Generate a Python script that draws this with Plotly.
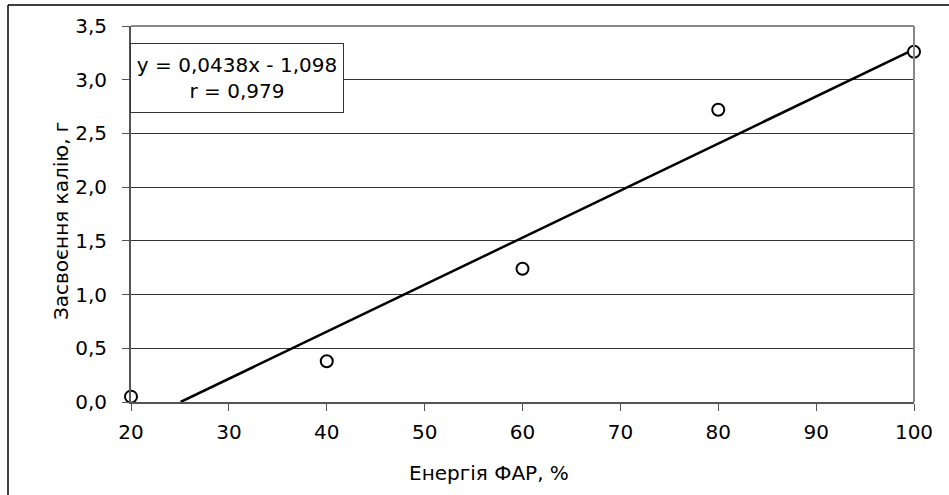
import plotly.graph_objects as go

energy = [20, 40, 60, 80, 100]
uptake = [0.05, 0.38, 1.24, 2.72, 3.26]
slope = 0.0438
intercept = -1.098
r_value = 0.979

x_tick_vals = [20, 30, 40, 50, 60, 70, 80, 90, 100]
y_tick_vals = [0, 0.5, 1.0, 1.5, 2.0, 2.5, 3.0, 3.5]

x_title = "Енергія ФАР, %"
y_title = "Засвоєння калію, г"
eq_text = "y = 0,0438x - 1,098<br>r = 0,979"

x_start = -intercept / slope
trend_x = [x_start, max(energy)]
trend_y = [slope * x + intercept for x in trend_x]

FONT = "DejaVu Sans, Verdana, sans-serif"

fig = go.Figure()
fig.add_trace(go.Scatter(
    x=trend_x, y=trend_y, mode="lines",
    line=dict(color="black", width=2.5), showlegend=False, hoverinfo="skip"))
fig.add_trace(go.Scatter(
    x=energy, y=uptake, mode="markers",
    marker=dict(symbol="circle", size=12, color="white",
                line=dict(color="black", width=2)),
    showlegend=False, cliponaxis=False))

W, H = 949, 495
ml, mr, mt, mb = 131, 35, 26, 93
pw = W - ml - mr
ph = H - mt - mb

def px(xp):
    return (xp - ml) / pw

def py(yp):
    return (H - mb - yp) / ph

fig.update_layout(
    width=W, height=H,
    margin=dict(l=ml, r=mr, t=mt, b=mb),
    paper_bgcolor="white", plot_bgcolor="white",
    separators=", ",
    font=dict(family=FONT, color="black", size=20),
    xaxis=dict(
        range=[20, 100], tickvals=x_tick_vals, tickformat="d",
        showgrid=False, zeroline=False,
        showline=True, linecolor="#555555", linewidth=2,
        ticks="outside", ticklen=7, tickcolor="#555555", tickwidth=1,
        tickfont=dict(size=20, family=FONT), ticklabelstandoff=4,
    ),
    yaxis=dict(
        range=[0, 3.5], tickvals=y_tick_vals, tickformat=".1f",
        showgrid=True, gridcolor="#333333", gridwidth=1,
        zeroline=False,
        showline=True, linecolor="#555555", linewidth=2,
        ticks="outside", ticklen=7, tickcolor="#555555", tickwidth=1,
        tickfont=dict(size=20, family=FONT), ticklabelstandoff=11,
    ),
    shapes=[
        dict(type="line", xref="paper", yref="paper", x0=0, x1=1, y0=1, y1=1,
             line=dict(color="#888888", width=2)),
        dict(type="line", xref="paper", yref="paper", x0=1, x1=1, y0=0, y1=1,
             line=dict(color="#888888", width=2)),
        dict(type="line", xref="paper", yref="paper", x0=px(8), x1=px(W + 5),
             y0=py(5), y1=py(5), line=dict(color="black", width=1.5)),
        dict(type="line", xref="paper", yref="paper", x0=px(8), x1=px(8),
             y0=py(5), y1=py(H + 5), line=dict(color="black", width=1.5)),
    ],
    annotations=[
        dict(xref="paper", yref="paper", x=px(130), y=py(43),
             xanchor="left", yanchor="top", showarrow=False,
             text=eq_text,
             font=dict(size=20, family=FONT, color="black"),
             align="center", width=212, height=68,
             bgcolor="white", bordercolor="#333333", borderwidth=1, borderpad=0),
        dict(xref="paper", yref="paper", x=px(489), y=py(473),
             xanchor="center", yanchor="middle", showarrow=False,
             text=x_title, font=dict(size=20, family=FONT, color="black")),
        dict(xref="paper", yref="paper", x=px(61), y=py(221),
             xanchor="center", yanchor="middle", showarrow=False, textangle=-90,
             text=y_title, font=dict(size=20, family=FONT, color="black")),
    ],
)

fig.write_html("out.html", config={"displayModeBar": False},
               post_script="document.body.style.margin='0';document.body.style.overflow='hidden';")
